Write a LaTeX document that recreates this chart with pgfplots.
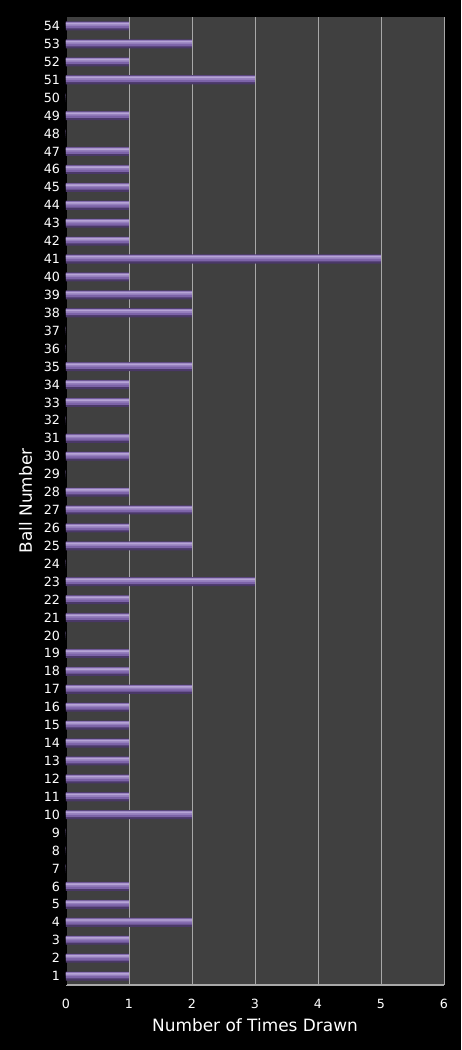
\documentclass[border=0pt]{standalone}
\usepackage{pgfplots}
\pgfplotsset{compat=1.18}
\usepackage{pgfplotstable}
\usepackage{fontspec}
\setmainfont{DejaVu Sans}

\definecolor{plotbg}{HTML}{404040}
\definecolor{gridc}{HTML}{A8A8A8}
\definecolor{barhi}{HTML}{B6A4D6}
\definecolor{bartop}{HTML}{957FBD}
\definecolor{barmid}{HTML}{7C63A8}
\definecolor{barbot}{HTML}{4A3868}

% ball number, times drawn
\pgfplotstableread{
ball count
1 1
2 1
3 1
4 2
5 1
6 1
7 0
8 0
9 0
10 2
11 1
12 1
13 1
14 1
15 1
16 1
17 2
18 1
19 1
20 0
21 1
22 1
23 3
24 0
25 2
26 1
27 2
28 1
29 0
30 1
31 1
32 0
33 1
34 1
35 2
36 0
37 0
38 2
39 2
40 1
41 5
42 1
43 1
44 1
45 1
46 1
47 1
48 0
49 1
50 0
51 3
52 1
53 2
54 1
}\balls

\begin{document}
\begin{tikzpicture}
\fill[black] (-49.5pt,-48.75pt) rectangle (296.25pt,738.75pt);
\useasboundingbox (-49.5pt,-48.75pt) rectangle (296.25pt,738.75pt);
\begin{axis}[
    scale only axis,
    width=283.5pt, height=726pt,
    xbar,
    xmin=0, xmax=6,
    ymin=0.5, ymax=54.5,
    xtick={0,1,2,3,4,5,6},
    ytick={1,...,54},
    axis background/.style={fill=plotbg},
    axis x line*=bottom,
    axis y line*=left,
    x axis line style={gridc, line width=0.8pt},
    y axis line style={black, line width=0.8pt},
    xmajorgrids,
    grid style={gridc, line width=0.6pt},
    major tick length=0pt,
    tick label style={white, font=\fontsize{9.5}{11}\selectfont},
    /pgf/number format/assume math mode=true,
    xticklabel style={yshift=-7pt},
    yticklabel style={xshift=-1pt},
    xlabel={Number of Times Drawn},
    ylabel={Ball Number},
    label style={white, font=\fontsize{12.7}{14}\selectfont},
    xlabel style={yshift=-1pt},
    ylabel style={yshift=2pt},
    clip=false,
]
% layered bars give the rounded, lit look of the original
\addplot[draw=none, fill=barbot, bar width=6.8pt, bar shift=0pt]
    table[x=count, y=ball] {\balls};
\addplot[draw=none, fill=barmid, bar width=4.8pt, bar shift=0.6pt]
    table[x=count, y=ball] {\balls};
\addplot[draw=none, fill=bartop, bar width=2.8pt, bar shift=1.3pt]
    table[x=count, y=ball] {\balls};
\addplot[draw=none, fill=barhi, bar width=1.1pt, bar shift=1.7pt]
    table[x=count, y=ball] {\balls};
\end{axis}
\end{tikzpicture}
\end{document}
